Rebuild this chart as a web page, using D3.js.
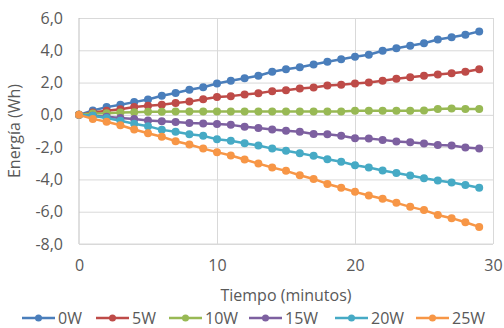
<!DOCTYPE html>
<html>
<head>
<meta charset="utf-8">
<script src="https://cdn.jsdelivr.net/npm/d3@7"></script>
<style>
  html, body { margin: 0; padding: 0; background: #fff; }
  svg { display: block; font-family: "Open Sans", "Lato", sans-serif; }
</style>
</head>
<body>
<svg id="chart" width="504" height="328"></svg>
<script>
const minutes = d3.range(0, 30);
const seriesNames = ["0W", "5W", "10W", "15W", "20W", "25W"];
const seriesColors = ["#4a7ebb", "#be4b48", "#98b954", "#7d60a0", "#46aac5", "#f79646"];

const s0W = [0, 0.27, 0.48, 0.62, 0.79, 0.95, 1.18, 1.36, 1.55, 1.71, 1.94,
  2.11, 2.27, 2.42, 2.67, 2.83, 2.95, 3.12, 3.29, 3.45, 3.60,
  3.72, 3.97, 4.13, 4.28, 4.44, 4.67, 4.81, 4.96, 5.17];
const s5W = [0, 0.15, 0.25, 0.35, 0.48, 0.56, 0.62, 0.74, 0.82, 0.97, 1.10,
  1.16, 1.26, 1.34, 1.47, 1.53, 1.63, 1.69, 1.82, 1.86, 1.94,
  2.00, 2.11, 2.23, 2.33, 2.42, 2.50, 2.58, 2.67, 2.83];
const s10W = [0, 0.08, 0.10, 0.14, 0.16, 0.19, 0.19, 0.21, 0.21, 0.21, 0.21,
  0.21, 0.21, 0.21, 0.21, 0.21, 0.21, 0.21, 0.21, 0.21, 0.25,
  0.25, 0.25, 0.25, 0.25, 0.27, 0.37, 0.39, 0.37, 0.37];
const s15W = [0, -0.05, -0.12, -0.20, -0.25, -0.35, -0.40, -0.45, -0.50, -0.53, -0.56,
  -0.62, -0.74, -0.81, -0.91, -0.99, -1.05, -1.18, -1.20, -1.30, -1.45,
  -1.47, -1.55, -1.65, -1.69, -1.78, -1.86, -1.90, -2.02, -2.09];
const s20W = [0, -0.05, -0.20, -0.37, -0.55, -0.70, -0.93, -1.05, -1.20, -1.30, -1.51,
  -1.61, -1.76, -1.90, -2.09, -2.23, -2.38, -2.54, -2.75, -2.91, -3.12,
  -3.26, -3.45, -3.60, -3.76, -3.93, -4.07, -4.19, -4.34, -4.52];
const s25W = [0, -0.25, -0.43, -0.64, -0.91, -1.14, -1.36, -1.63, -1.84, -2.09, -2.31,
  -2.52, -2.77, -3.02, -3.26, -3.47, -3.74, -3.97, -4.28, -4.52, -4.77,
  -5.00, -5.20, -5.45, -5.70, -5.90, -6.20, -6.40, -6.65, -6.94];
const seriesValues = [s0W, s5W, s10W, s15W, s20W, s25W];

const xTicks = [0, 10, 20, 30];
const yTicks = [-8, -6, -4, -2, 0, 2, 4, 6];
const xTitle = "Tiempo (minutos)";
const yTitle = "Energía (Wh)";

const svg = d3.select("#chart");
const margin = { left: 79, right: 11, top: 18, bottom: 84 };
const W = 504, H = 328;
const x = d3.scaleLinear().domain([0, 30]).range([margin.left, W - margin.right]);
const y = d3.scaleLinear().domain([-8, 6]).range([H - margin.bottom, margin.top]);

const gridColor = "#d9d9d9";
const textColor = "#595959";
const fontFam = "'Open Sans', Lato, sans-serif";
const fs = "16px";

// horizontal gridlines
svg.append("g")
  .attr("transform", `translate(${margin.left},0)`)
  .call(d3.axisLeft(y).tickValues(yTicks).tickSize(-(x(30) - x(0))).tickFormat(""))
  .call(g => g.select(".domain").remove())
  .call(g => g.selectAll("line").attr("stroke", gridColor).attr("stroke-width", 1));

// vertical gridlines
svg.append("g")
  .attr("transform", `translate(0,${y(-8)})`)
  .call(d3.axisBottom(x).tickValues(xTicks.slice(1)).tickSize(-(y(-8) - y(6))).tickFormat(""))
  .call(g => g.select(".domain").remove())
  .call(g => g.selectAll("line").attr("stroke", gridColor).attr("stroke-width", 1));

// axis lines
svg.append("line").attr("x1", x(0)).attr("x2", x(0)).attr("y1", y(6)).attr("y2", y(-8))
  .attr("stroke", "#bfbfbf").attr("stroke-width", 1);
svg.append("line").attr("x1", x(0)).attr("x2", x(30)).attr("y1", y(-8)).attr("y2", y(-8))
  .attr("stroke", "#d9d9d9").attr("stroke-width", 1);

// y tick labels
const fmt = v => d3.format(".1f")(v).replace(".", ",").replace("−", "-");
svg.append("g")
  .attr("transform", `translate(${margin.left},0)`)
  .call(d3.axisLeft(y).tickValues(yTicks).tickSize(0).tickPadding(16).tickFormat(fmt))
  .call(g => g.select(".domain").remove())
  .call(g => g.selectAll("text").attr("fill", textColor).style("font-size", fs)
    .style("font-family", fontFam));

// x tick labels
svg.append("g")
  .attr("transform", `translate(0,${y(-8)})`)
  .call(d3.axisBottom(x).tickValues(xTicks).tickSize(0).tickPadding(16).tickFormat(d3.format("d")))
  .call(g => g.select(".domain").remove())
  .call(g => g.selectAll("text").attr("fill", textColor).style("font-size", fs)
    .style("font-family", fontFam));

// axis titles
svg.append("text").attr("x", 286).attr("y", 301).attr("text-anchor", "middle")
  .attr("fill", textColor).style("font-size", fs).text(xTitle);
svg.append("text").attr("transform", `translate(20,${(y(6) + y(-8)) / 2}) rotate(-90)`)
  .attr("text-anchor", "middle").attr("fill", textColor).style("font-size", fs).text(yTitle);

// series
const line = d3.line().x((d, i) => x(minutes[i])).y(d => y(d));
seriesValues.forEach((vals, si) => {
  const g = svg.append("g");
  g.append("path").datum(vals).attr("d", line).attr("fill", "none")
    .attr("stroke", seriesColors[si]).attr("stroke-width", 2.5).attr("stroke-linejoin", "round");
  g.selectAll("circle").data(vals).join("circle")
    .attr("cx", (d, i) => x(minutes[i])).attr("cy", d => y(d)).attr("r", 4)
    .attr("fill", seriesColors[si]);
});

// legend
const legendX = [22, 96, 169, 249, 335, 416];
const legY = 318;
const leg = svg.append("g");
seriesNames.forEach((name, i) => {
  const lx = legendX[i];
  leg.append("line").attr("x1", lx).attr("x2", lx + 33).attr("y1", legY).attr("y2", legY)
    .attr("stroke", seriesColors[i]).attr("stroke-width", 2.5);
  leg.append("circle").attr("cx", lx + 16.5).attr("cy", legY).attr("r", 3.5).attr("fill", seriesColors[i]);
  leg.append("text").attr("x", lx + 36).attr("y", legY).attr("dy", "0.35em")
    .attr("fill", textColor).style("font-size", fs).text(name);
});
</script>
</body>
</html>
